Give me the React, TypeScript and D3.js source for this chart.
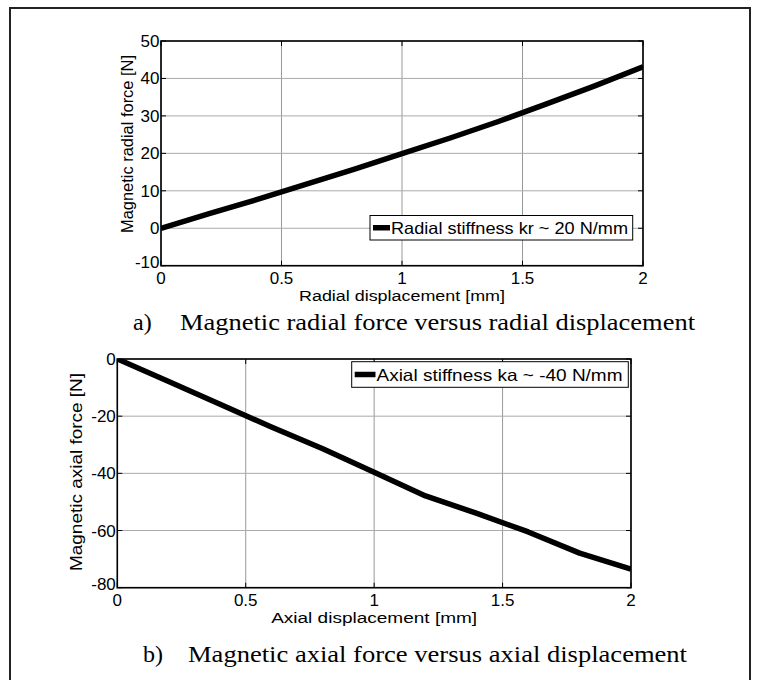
import React from "react";
import * as d3 from "d3";

// displacement samples [mm]
const dispMm = [0, 0.2, 0.4, 0.6, 0.8, 1.0, 1.2, 1.4, 1.6, 1.8, 2.0];
// radial force [N]
const radialForce = [0, 3.9, 7.7, 11.7, 15.7, 19.9, 24.1, 28.5, 33.2, 38.0, 43.1];
// axial force [N]
const axialForce = [0, -7.9, -15.8, -23.8, -31.4, -39.6, -47.9, -54.0, -60.5, -67.9, -73.5];

const xTicks = [0, 0.5, 1, 1.5, 2];
const radialTicks = [-10, 0, 10, 20, 30, 40, 50];
const axialTicks = [-80, -60, -40, -20, 0];

const sans = "'Liberation Sans', Arial, sans-serif";
const serif = "'Liberation Serif', 'Times New Roman', serif";

interface PanelProps {
  id: string;
  box: { left: number; right: number; top: number; bottom: number };
  yDomain: [number, number];
  yTicks: number[];
  values: number[];
  xLabel: string;
  xLabelLen: number;
  yLabel: string;
  yLabelLen: number;
  yLabelX: number;
  yLabelY: number;
  legend: string;
  legendBox: { x0: number; x1: number; y0: number; y1: number };
  legendTextX: number;
  legendTextLen: number;
  caption: string;
  capLetter: string;
  capLetterX: number;
  capX: number;
  capLen: number;
  capY: number;
}

function Panel(p: PanelProps) {
  const { left, right, top, bottom } = p.box;
  const x = d3.scaleLinear().domain([0, 2]).range([left, right]);
  const y = d3.scaleLinear().domain(p.yDomain).range([bottom, top]);
  const line = d3
    .line<number>()
    .x((_, i) => x(dispMm[i]))
    .y((d) => y(d));
  const tick = 5;
  const lb = p.legendBox;
  const legY = (lb.y0 + lb.y1) / 2;
  const yMin = p.yDomain[0];

  return (
    <g>
      <defs>
        <clipPath id={`clip-${p.id}`}>
          <rect x={left} y={top} width={right - left} height={bottom - top} />
        </clipPath>
      </defs>
      {/* grid */}
      {xTicks.map((t) => (
        <line key={`gx${t}`} x1={x(t)} x2={x(t)} y1={top} y2={bottom} stroke="#999" strokeWidth={1} />
      ))}
      {p.yTicks.map((t) => (
        <line key={`gy${t}`} x1={left} x2={right} y1={y(t)} y2={y(t)} stroke="#aaa" strokeWidth={1} />
      ))}
      {/* ticks on all four sides */}
      {xTicks.map((t) => (
        <g key={`tx${t}`} stroke="#000" strokeWidth={1}>
          <line x1={x(t)} x2={x(t)} y1={bottom} y2={bottom - tick} />
          <line x1={x(t)} x2={x(t)} y1={top} y2={top + tick} />
        </g>
      ))}
      {p.yTicks.map((t) => (
        <g key={`ty${t}`} stroke="#000" strokeWidth={1}>
          <line x1={left} x2={left + tick} y1={y(t)} y2={y(t)} />
          <line x1={right} x2={right - tick} y1={y(t)} y2={y(t)} />
        </g>
      ))}
      {/* data */}
      <path
        d={line(p.values) || ""}
        fill="none"
        stroke="#000"
        strokeWidth={5.5}
        strokeLinejoin="round"
        clipPath={`url(#clip-${p.id})`}
      />
      {/* axes box */}
      <rect x={left} y={top} width={right - left} height={bottom - top} fill="none" stroke="#000" strokeWidth={1.6} />
      {/* tick labels */}
      {xTicks.map((t) => (
        <text key={`lx${t}`} x={x(t)} y={bottom + 18.5} textAnchor="middle" fontFamily={sans} fontSize={17}>
          {t}
        </text>
      ))}
      {p.yTicks.map((t) => (
        <text
          key={`ly${t}`}
          x={left - 1.5}
          y={y(t) + (t === yMin ? 2 : 6)}
          textAnchor="end"
          fontFamily={sans}
          fontSize={17}
        >
          {t}
        </text>
      ))}
      {/* axis labels */}
      <text
        x={(left + right) / 2 - p.xLabelLen / 2}
        y={bottom + 35}
        fontFamily={sans}
        fontSize={15.5}
        textLength={p.xLabelLen}
        lengthAdjust="spacingAndGlyphs"
      >
        {p.xLabel}
      </text>
      <text
        transform={`translate(${p.yLabelX},${p.yLabelY}) rotate(-90)`}
        x={-p.yLabelLen / 2}
        y={0}
        fontFamily={sans}
        fontSize={16.5}
        textLength={p.yLabelLen}
        lengthAdjust="spacingAndGlyphs"
      >
        {p.yLabel}
      </text>
      {/* legend */}
      <rect x={lb.x0} y={lb.y0} width={lb.x1 - lb.x0} height={lb.y1 - lb.y0} fill="#fff" stroke="#000" strokeWidth={1} />
      <line x1={lb.x0 + 3} x2={p.legendTextX - 1} y1={legY} y2={legY} stroke="#000" strokeWidth={5.5} />
      <text
        x={p.legendTextX}
        y={legY + 6}
        fontFamily={sans}
        fontSize={16.5}
        textLength={p.legendTextLen}
        lengthAdjust="spacingAndGlyphs"
      >
        {p.legend}
      </text>
      {/* caption */}
      <text x={p.capLetterX} y={p.capY} fontFamily={serif} fontSize={24}>
        {p.capLetter}
      </text>
      <text x={p.capX} y={p.capY} fontFamily={serif} fontSize={24} textLength={p.capLen} lengthAdjust="spacingAndGlyphs">
        {p.caption}
      </text>
    </g>
  );
}

export default function App() {
  return (
    <svg
      width={760}
      height={680}
      viewBox="0 0 760 680"
      style={{ position: "absolute", left: 0, top: 0, background: "#fff" }}
    >
      <rect x={0} y={0} width={760} height={680} fill="#fff" />
      <rect x={10} y={8} width={740} height={700} fill="none" stroke="#222" strokeWidth={2} />
      <Panel
        id="a"
        box={{ left: 161, right: 643, top: 41, bottom: 265.7 }}
        yDomain={[-10, 50]}
        yTicks={radialTicks}
        values={radialForce}
        xLabel="Radial displacement [mm]"
        xLabelLen={206}
        yLabel="Magnetic radial force [N]"
        yLabelLen={178}
        yLabelX={132.5}
        yLabelY={144}
        legend="Radial stiffness kr ~ 20 N/mm"
        legendBox={{ x0: 370, x1: 632.7, y0: 215.5, y1: 240 }}
        legendTextX={391}
        legendTextLen={237}
        caption="Magnetic radial force versus radial displacement"
        capLetter="a)"
        capLetterX={133}
        capX={180}
        capLen={515}
        capY={330}
      />
      <Panel
        id="b"
        box={{ left: 117.3, right: 631, top: 359, bottom: 587.7 }}
        yDomain={[-80, 0]}
        yTicks={axialTicks}
        values={axialForce}
        xLabel="Axial displacement [mm]"
        xLabelLen={206}
        yLabel="Magnetic axial force [N]"
        yLabelLen={198}
        yLabelX={81.5}
        yLabelY={472}
        legend="Axial stiffness ka ~ -40 N/mm"
        legendBox={{ x0: 351.7, x1: 628.3, y0: 361.7, y1: 387.3 }}
        legendTextX={376.5}
        legendTextLen={246}
        caption="Magnetic axial force versus axial displacement"
        capLetter="b)"
        capLetterX={143}
        capX={188}
        capLen={499}
        capY={662}
      />
    </svg>
  );
}
